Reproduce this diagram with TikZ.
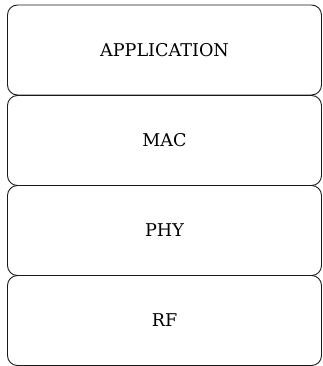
\documentclass[tikz,border=0pt]{standalone}
\usepackage{fontspec}
\setmainfont{DejaVu Serif}
\usetikzlibrary{positioning}

\tikzset{
    layer/.style={draw=black!90, line width=0.9pt, rounded corners=10pt,
        minimum width=314pt, minimum height=90pt, inner sep=0pt,
        font=\fontsize{17.6pt}{20pt}\selectfont, text=black}
}

\begin{document}
\begin{tikzpicture}
            \useasboundingbox (0,0) rectangle (323pt,-366pt);

            \node[layer] (app) at (164.5pt,-50pt) {APPLICATION};
            \node[layer] (mac) at (164.5pt,-140.5pt) {MAC};
            \node[layer] (phy) at (164.5pt,-230.5pt) {PHY};
            \node[layer] (rf) at (164.5pt,-320.5pt) {RF};
        \end{tikzpicture}
\end{document}
